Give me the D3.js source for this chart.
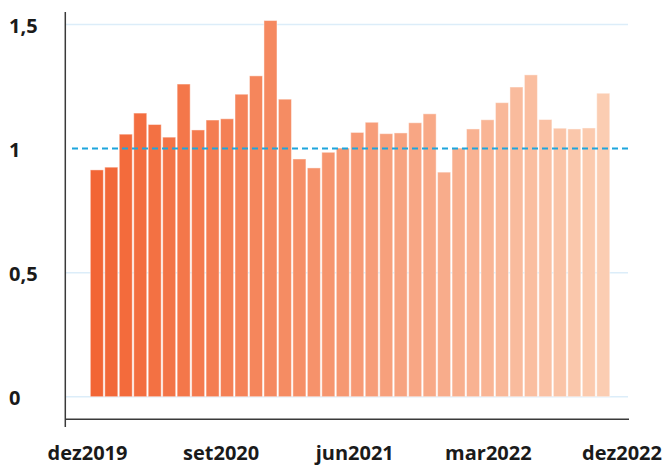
<!DOCTYPE html>
<html>
<head>
<meta charset="utf-8">
<script src="https://cdn.jsdelivr.net/npm/d3@7"></script>
<style>
  html, body { margin: 0; padding: 0; background: #fff; }
  svg { display: block; }
  text { font-family: "Open Sans", "Noto Sans", sans-serif; font-weight: 700; fill: #1a1a1a; }
</style>
</head>
<body>
<svg id="chart" width="667" height="465"></svg>
<script>
// Monthly categories (36 months)
const categories = [
  "jan2020","fev2020","mar2020","abr2020","mai2020","jun2020","jul2020","ago2020","set2020","out2020","nov2020","dez2020",
  "jan2021","fev2021","mar2021","abr2021","mai2021","jun2021","jul2021","ago2021","set2021","out2021","nov2021","dez2021",
  "jan2022","fev2022","mar2022","abr2022","mai2022","jun2022","jul2022","ago2022","set2022","out2022","nov2022","dez2022"
];
const values = [
  0.914, 0.925, 1.058, 1.143, 1.097, 1.046, 1.260, 1.075, 1.115, 1.120, 1.219, 1.293,
  1.516, 1.199, 0.958, 0.922, 0.985, 1.002, 1.065, 1.106, 1.060, 1.063, 1.104, 1.140,
  0.905, 1.002, 1.079, 1.116, 1.185, 1.248, 1.297, 1.117, 1.082, 1.079, 1.083, 1.223
];
const yTicks = [0, 0.5, 1, 1.5];
const yTickLabels = ["0", "0,5", "1", "1,5"];
const xTickIndex = [0, 9, 18, 27, 36];
const xTickLabels = ["dez2019", "set2020", "jun2021", "mar2022", "dez2022"];
const referenceValue = 1;

const svg = d3.select("#chart");

const y = d3.scaleLinear().domain([0, 1.5]).range([396.7, 24.5]);
const xBand = d3.scaleBand().domain(categories).range([89.6, 610.5]).paddingInner(0.1).paddingOuter(0.05);
const xLabel = d3.scaleLinear().domain([0, 36]).range([87.5, 622]);
const color = d3.scaleLinear().domain([0, categories.length - 1])
  .range(["#f26535", "#fbcdb2"]).interpolate(d3.interpolateRgb);

const plotLeft = 65.3, plotRight = 628;

// gridlines (except reference line)
svg.append("g").selectAll("line")
  .data(yTicks.filter(v => v !== referenceValue))
  .join("line")
  .attr("x1", plotLeft).attr("x2", plotRight)
  .attr("y1", d => y(d)).attr("y2", d => y(d))
  .attr("stroke", "#dcedf9").attr("stroke-width", 1.5);

// bars
svg.append("g").selectAll("rect")
  .data(values)
  .join("rect")
  .attr("x", (d, i) => xBand(categories[i]))
  .attr("width", xBand.bandwidth())
  .attr("y", d => y(d))
  .attr("height", d => y(0) - y(d))
  .attr("fill", (d, i) => color(i))
  .attr("stroke", "rgba(255,255,255,0.45)")
  .attr("stroke-width", 1);

// reference dashed line
svg.append("line")
  .attr("x1", 72).attr("x2", plotRight)
  .attr("y1", y(referenceValue)).attr("y2", y(referenceValue))
  .attr("stroke", "#1ca6de").attr("stroke-width", 2)
  .attr("stroke-dasharray", "6,4");

// axes lines
svg.append("line")
  .attr("x1", plotLeft).attr("x2", plotLeft)
  .attr("y1", 12).attr("y2", 427)
  .attr("stroke", "#3a3a3a").attr("stroke-width", 1.5);
svg.append("line")
  .attr("x1", plotLeft).attr("x2", 629)
  .attr("y1", 419.3).attr("y2", 419.3)
  .attr("stroke", "#3a3a3a").attr("stroke-width", 1.5);

// y labels
svg.append("g").selectAll("text")
  .data(yTicks)
  .join("text")
  .attr("x", 9)
  .attr("y", d => y(d) + 8.5)
  .attr("font-size", 20)
  .attr("text-anchor", "start")
  .text((d, i) => yTickLabels[i]);

// x labels
svg.append("g").selectAll("text")
  .data(xTickIndex)
  .join("text")
  .attr("x", d => xLabel(d))
  .attr("y", 459.6)
  .attr("font-size", 20)
  .attr("text-anchor", "middle")
  .text((d, i) => xTickLabels[i]);
</script>
</body>
</html>
